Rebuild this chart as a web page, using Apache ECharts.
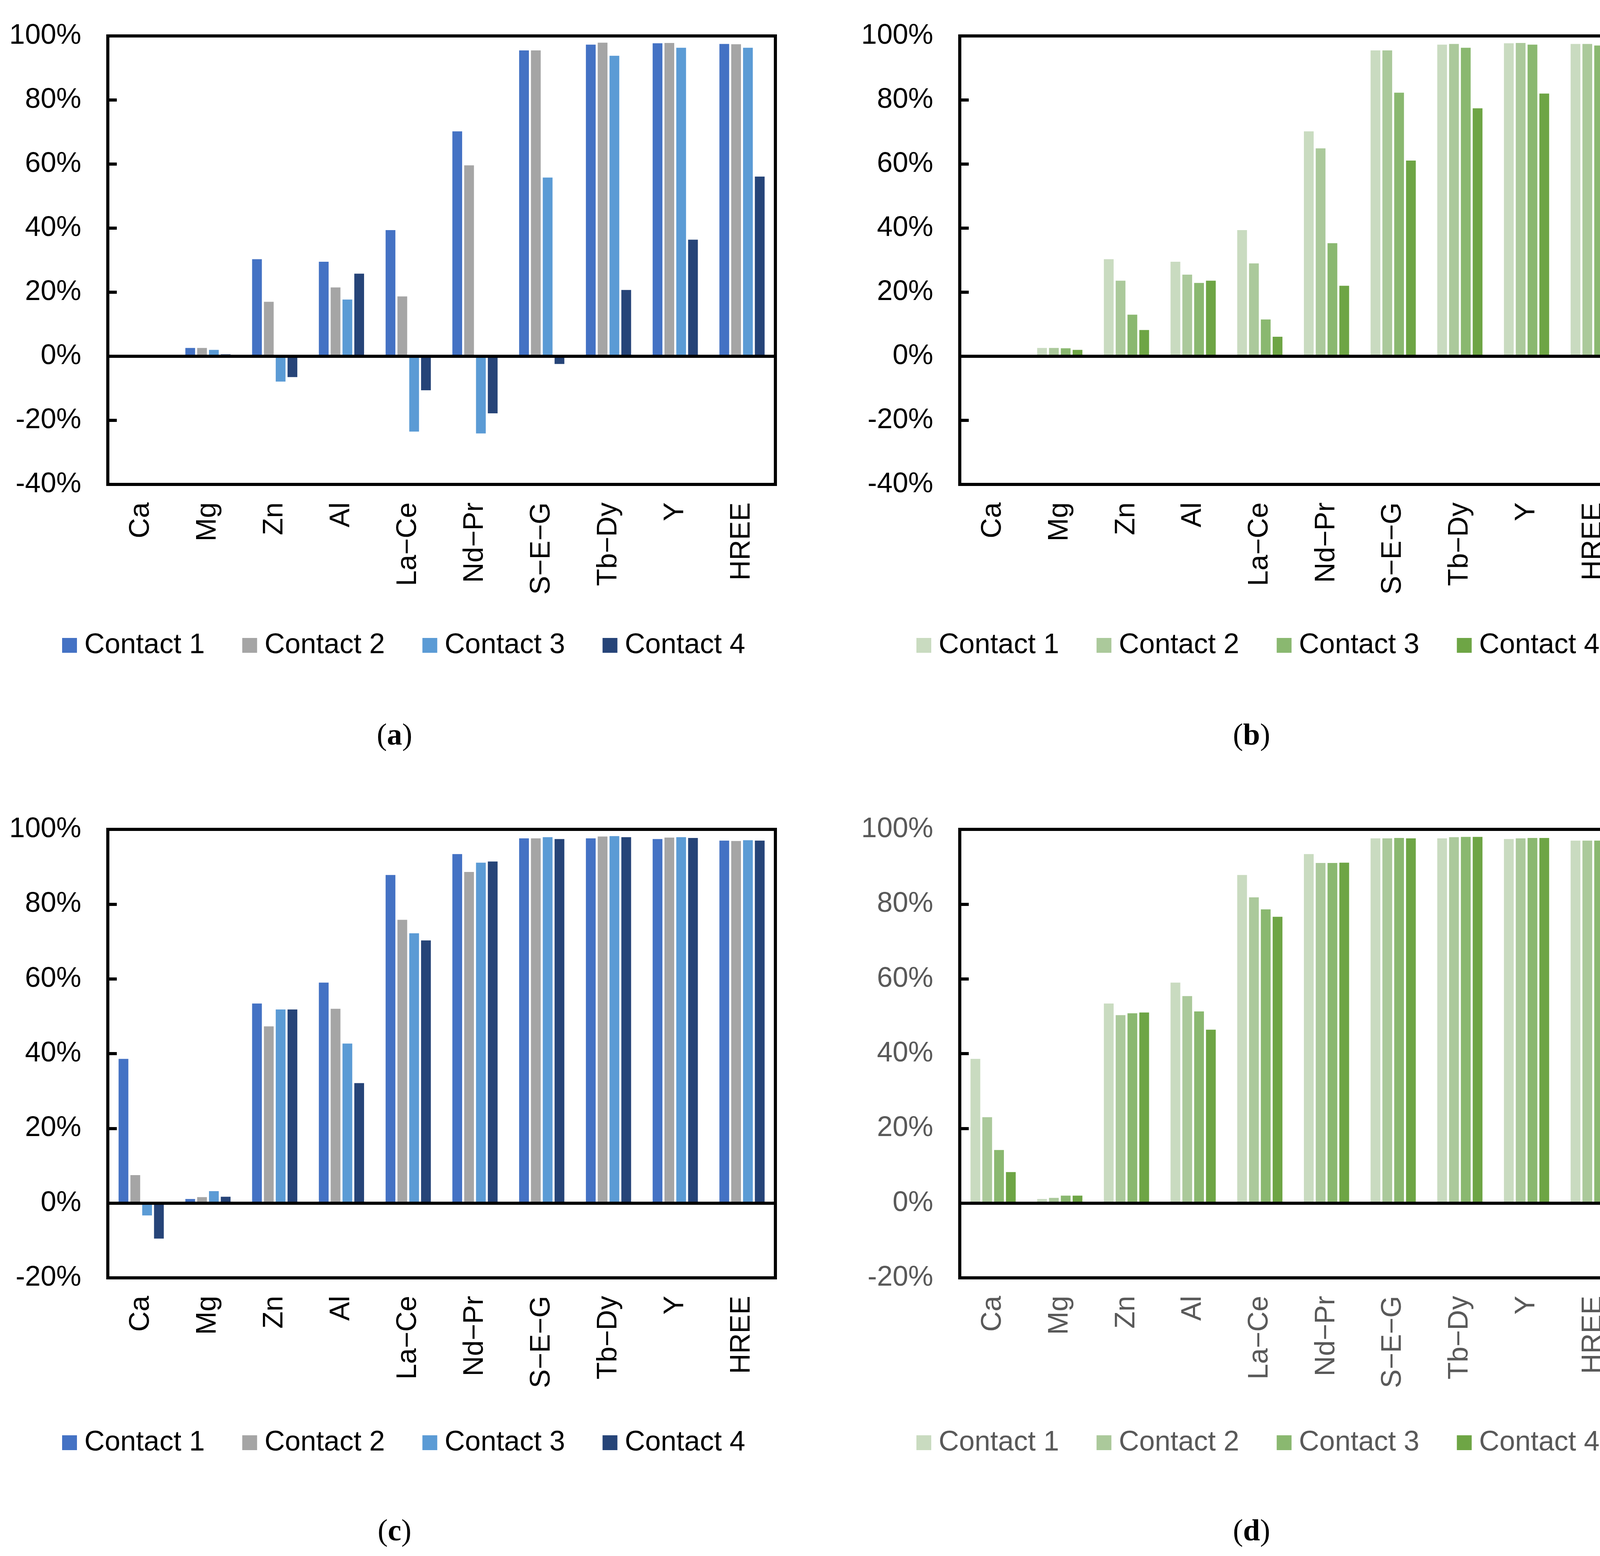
<!DOCTYPE html>
<html>
<head>
<meta charset="utf-8">
<script src="https://cdn.jsdelivr.net/npm/echarts@6/dist/echarts.min.js"></script>
<style>
html,body{margin:0;padding:0;background:#fff;}
.q{position:absolute;width:2114px;height:1992px;}
</style>
</head>
<body>
<div id="pa" class="q" style="left:0;top:0;"></div>
<div id="pb" class="q" style="left:2114px;top:0;"></div>
<div id="pc" class="q" style="left:0;top:1992px;"></div>
<div id="pd" class="q" style="left:2114px;top:1992px;"></div>
<script>
const categories = ['Ca','Mg','Zn','Al','La\u2212Ce','Nd\u2212Pr','S\u2212E\u2212G','Tb\u2212Dy','Y','HREE'];
const seriesNames = ['Contact 1','Contact 2','Contact 3','Contact 4'];

// Panel (a)
const a1 = [0, 2.6, 30.3, 29.5, 39.4, 70.2, 95.5, 97.3, 97.7, 97.5];
const a2 = [0, 2.6, 17.0, 21.5, 18.7, 59.6, 95.5, 97.9, 97.8, 97.4];
const a3 = [0, 2.0, -7.9, 17.7, -23.5, -24.1, 55.8, 93.8, 96.3, 96.3];
const a4 = [0, 0.6, -6.5, 25.8, -10.6, -17.8, -2.4, 20.7, 36.4, 56.1];
// Panel (b)
const b1 = [0, 2.6, 30.3, 29.5, 39.4, 70.2, 95.5, 97.3, 97.7, 97.5];
const b2 = [0, 2.6, 23.6, 25.5, 29.0, 64.9, 95.5, 97.5, 97.8, 97.5];
const b3 = [0, 2.5, 13.0, 22.9, 11.5, 35.3, 82.3, 96.3, 97.3, 97.0];
const b4 = [0, 2.0, 8.2, 23.6, 6.1, 22.0, 61.1, 77.4, 82.0, 86.8];
// Panel (c)
const c1 = [38.6, 1.1, 53.4, 59.0, 87.8, 93.4, 97.6, 97.6, 97.4, 97.0];
const c2 = [7.5, 1.6, 47.3, 52.0, 75.8, 88.6, 97.6, 98.1, 97.8, 96.9];
const c3 = [-3.3, 3.2, 51.8, 42.7, 72.2, 91.1, 97.9, 98.2, 97.9, 97.1];
const c4 = [-9.5, 1.7, 51.8, 32.1, 70.3, 91.4, 97.4, 97.9, 97.7, 97.0];
// Panel (d)
const d1 = [38.6, 1.1, 53.4, 59.0, 87.8, 93.4, 97.6, 97.6, 97.4, 97.0];
const d2 = [23.0, 1.4, 50.3, 55.4, 81.8, 91.0, 97.6, 97.9, 97.6, 97.0];
const d3 = [14.2, 2.0, 50.8, 51.3, 78.6, 91.0, 97.7, 98.0, 97.7, 97.0];
const d4 = [8.3, 2.0, 51.0, 46.4, 76.6, 91.1, 97.6, 98.0, 97.7, 97.0];

const yTicksAB = {min: -40, max: 100, interval: 20};
const yTicksCD = {min: -20, max: 100, interval: 20};

const blues = ['#4472C4', '#A5A5A5', '#5B9BD5', '#264478'];
const greens = ['#C9DBC0', '#ABC99B', '#8AB870', '#6EA545'];

const FONT = "'Liberation Sans', Arial, sans-serif";

function makeOption(p) {
  const series = p.data.map((vals, i) => {
    const s = {
      name: seriesNames[i],
      type: 'bar',
      data: vals,
      barWidth: 25,
      barGap: '21%',
      itemStyle: {color: p.colors[i]},
      silent: true,
      animation: false
    };
    if (i === 0) {
      s.markLine = {
        silent: true,
        symbol: ['none', 'none'],
        label: {show: false},
        lineStyle: {color: '#000', width: 8, type: 'solid'},
        data: [{yAxis: 0}],
        animation: false
      };
    }
    return s;
  });
  return {
    animation: false,
    backgroundColor: 'transparent',
    grid: {
      left: p.gridLeft, top: p.gridTop, width: p.gridWidth, height: 1148,
      show: true, borderColor: '#000', borderWidth: 8, backgroundColor: 'transparent'
    },
    xAxis: {
      type: 'category',
      data: categories,
      position: 'bottom',
      axisLine: {show: false, onZero: false},
      axisTick: {show: false},
      splitLine: {show: false},
      axisLabel: {
        rotate: 90, margin: 46, interval: 0,
        fontSize: 72, fontFamily: FONT, color: p.textColor
      }
    },
    yAxis: {
      type: 'value',
      min: p.ticks.min, max: p.ticks.max, interval: p.ticks.interval,
      axisLine: {show: false},
      axisTick: {show: true, inside: true, length: 23, lineStyle: {color: '#000', width: 8}},
      splitLine: {show: false},
      axisLabel: {
        formatter: '{value}%', margin: 68,
        fontSize: 72, fontFamily: FONT, color: p.textColor
      }
    },
    legend: {
      data: seriesNames,
      left: p.legendLeft, top: p.legendTop,
      orient: 'horizontal',
      padding: 0,
      itemWidth: 38, itemHeight: 38, itemGap: 96,
      icon: 'rect',
      selectedMode: false,
      textStyle: {fontSize: 72, fontFamily: FONT, color: p.textColor, lineHeight: 72, padding: [0, 0, 0, 14]}
    },
    graphic: [{
      type: 'text',
      x: p.capX, y: p.capY,
      style: {
        text: '{p|(}{b|' + p.letter + '}{p|)}',
        align: 'center', verticalAlign: 'middle',
        rich: {
          p: {fontSize: 78, fontFamily: "'Liberation Serif', 'DejaVu Serif', serif", fill: '#000'},
          b: {fontSize: 78, fontWeight: 'bold', fontFamily: "'Liberation Serif', 'DejaVu Serif', serif", fill: '#000'}
        }
      }
    }],
    series: series
  };
}

const panels = [
  {id: 'pa', letter: 'a', data: [a1, a2, a3, a4], colors: blues, ticks: yTicksAB, textColor: '#000',
   gridLeft: 276, gridTop: 92, gridWidth: 1709, legendLeft: 159, legendTop: 1616, capX: 1010, capY: 1886},
  {id: 'pb', letter: 'b', data: [b1, b2, b3, b4], colors: greens, ticks: yTicksAB, textColor: '#000',
   gridLeft: 343, gridTop: 92, gridWidth: 1707, legendLeft: 232, legendTop: 1616, capX: 1090, capY: 1886},
  {id: 'pc', letter: 'c', data: [c1, c2, c3, c4], colors: blues, ticks: yTicksCD, textColor: '#000',
   gridLeft: 276, gridTop: 131, gridWidth: 1709, legendLeft: 159, legendTop: 1665, capX: 1010, capY: 1931},
  {id: 'pd', letter: 'd', data: [d1, d2, d3, d4], colors: greens, ticks: yTicksCD, textColor: '#595959',
   gridLeft: 343, gridTop: 131, gridWidth: 1707, legendLeft: 232, legendTop: 1665, capX: 1090, capY: 1931}
];

panels.forEach(p => {
  const chart = echarts.init(document.getElementById(p.id), null, {renderer: 'canvas'});
  chart.setOption(makeOption(p));
});
</script>
</body>
</html>
